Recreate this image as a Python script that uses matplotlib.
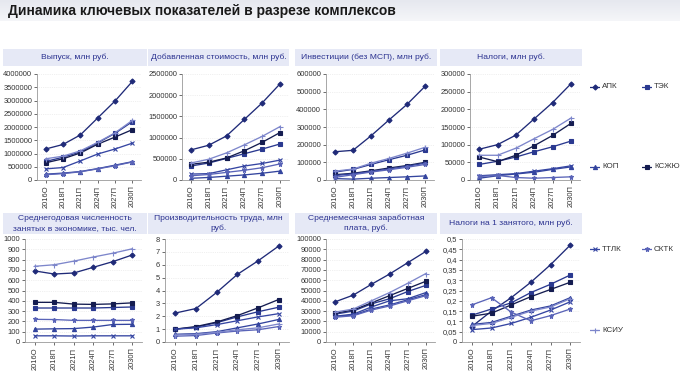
import numpy as np
import matplotlib
matplotlib.use('Agg')
import matplotlib.pyplot as plt
from matplotlib.patches import Rectangle
from matplotlib.ticker import FuncFormatter, MultipleLocator

plt.rcParams['font.family'] = ['Liberation Sans', 'DejaVu Sans']

W, H = 680, 388

years = ['2016О', '2018П', '2021П', '2024П', '2027П', '2030П']
names = ['АПК', 'ТЭК', 'КОП', 'КСЖЮ', 'ТТЛК', 'СКТК', 'КСИУ']

# values per panel, rows in order of names
vypusk = [
    [1170000, 1340000, 1700000, 2340000, 2980000, 3720000],
    [700000, 860000, 1060000, 1400000, 1760000, 2200000],
    [220000, 260000, 320000, 430000, 560000, 690000],
    [650000, 800000, 1020000, 1350000, 1620000, 1900000],
    [420000, 470000, 720000, 980000, 1170000, 1390000],
    [200000, 240000, 310000, 420000, 540000, 680000],
    [800000, 900000, 1100000, 1420000, 1780000, 2250000],
]
dobavl = [
    [710000, 820000, 1040000, 1430000, 1820000, 2270000],
    [330000, 400000, 510000, 620000, 730000, 850000],
    [40000, 60000, 90000, 120000, 160000, 210000],
    [370000, 420000, 520000, 690000, 890000, 1120000],
    [140000, 150000, 240000, 330000, 390000, 470000],
    [100000, 130000, 180000, 230000, 290000, 380000],
    [400000, 490000, 640000, 830000, 1030000, 1260000],
]
invest = [
    [160000, 168000, 250000, 340000, 428000, 530000],
    [45000, 60000, 88000, 115000, 140000, 170000],
    [8000, 5000, 10000, 14000, 18000, 23000],
    [30000, 38000, 52000, 68000, 82000, 100000],
    [25000, 35000, 48000, 62000, 78000, 95000],
    [15000, 30000, 45000, 58000, 72000, 88000],
    [50000, 62000, 95000, 122000, 152000, 185000],
]
nalogi = [
    [87000, 100000, 127000, 173000, 219000, 272000],
    [44000, 53000, 65000, 80000, 94000, 110000],
    [5000, 12000, 17000, 22000, 30000, 37000],
    [65000, 52000, 70000, 97000, 126000, 160000],
    [12000, 15000, 18000, 25000, 32000, 40000],
    [10000, 13000, 7000, 5000, 7000, 9000],
    [70000, 70000, 90000, 117000, 143000, 175000],
]
chislen = [
    [690, 660, 670, 725, 780, 845],
    [330, 330, 330, 330, 335, 340],
    [125, 128, 130, 145, 170, 172],
    [385, 385, 368, 365, 370, 380],
    [60, 60, 58, 60, 60, 60],
    [220, 218, 210, 210, 210, 210],
    [735, 750, 785, 825, 862, 905],
]
proizv = [
    [2.25, 2.6, 3.85, 5.25, 6.3, 7.45],
    [1.0, 1.15, 1.5, 1.95, 2.35, 2.7],
    [0.6, 0.65, 0.8, 1.1, 1.4, 1.75],
    [1.0, 1.2, 1.55, 2.05, 2.65, 3.3],
    [1.0, 1.1, 1.35, 1.65, 1.95, 2.2],
    [0.45, 0.5, 0.7, 0.85, 0.95, 1.2],
    [0.55, 0.6, 0.75, 0.95, 1.1, 1.4],
]
zarplata = [
    [39000, 45500, 56000, 66000, 77000, 88000],
    [27000, 30000, 37000, 42000, 49000, 55000],
    [25000, 27000, 34000, 40000, 42000, 48000],
    [28000, 31000, 38000, 45000, 52000, 59000],
    [25000, 26000, 32000, 36000, 41000, 46000],
    [24000, 25500, 31000, 35000, 40000, 45000],
    [29000, 32000, 40000, 48000, 57000, 66500],
]
nalog_na1 = [
    [0.075, 0.15, 0.215, 0.29, 0.375, 0.47],
    [0.13, 0.16, 0.19, 0.24, 0.28, 0.325],
    [0.085, 0.095, 0.125, 0.155, 0.175, 0.215],
    [0.125, 0.14, 0.18, 0.22, 0.255, 0.29],
    [0.06, 0.068, 0.09, 0.12, 0.155, 0.195],
    [0.18, 0.215, 0.145, 0.103, 0.128, 0.16],
    [0.08, 0.09, 0.12, 0.15, 0.17, 0.21],
]

colors = ['#1f2a78', '#2a3990', '#33449e', '#141c50', '#3545a2', '#5a64b8', '#7d86cb']
markers = ['D', 's', '^', 's', 'x', '*', '+']
msizes = [2.6, 2.6, 3.0, 2.8, 3.0, 3.6, 3.6]

title_color = '#2b3290'
box_color = '#e6e9f6'

# (title, data, ymax, step, axes px (l, t, r, b), box px (l, t, r, b))
panels = [
    ('Выпуск, млн руб.', vypusk, 4000000, 500000, (37, 74, 141, 180), (3, 49, 147, 66)),
    ('Добавленная стоимость, млн руб.', dobavl, 2500000, 500000, (182, 74, 289, 180), (148, 49, 289, 66)),
    ('Инвестиции (без МСП), млн руб.', invest, 600000, 100000, (326, 74, 434, 180), (295, 49, 437, 66)),
    ('Налоги, млн руб.', nalogi, 300000, 50000, (470, 74, 580, 180), (440, 49, 582, 66)),
    ('Среднегодовая численность\nзанятых в экономике, тыс. чел.', chislen, 1000, 100, (25, 239, 142, 342), (3, 213, 147, 234)),
    ('Производительность труда, млн\nруб.', proizv, 8, 1, (165, 239, 289, 342), (148, 213, 289, 234)),
    ('Среднемесячная заработная\nплата, руб.', zarplata, 100000, 10000, (326, 239, 435, 342), (295, 213, 437, 234)),
    ('Налоги на 1 занятого, млн руб.', nalog_na1, 0.5, 0.05, (462, 239, 580, 342), (440, 213, 582, 234)),
]


def px_rect(l, t, r, b):
    return [l / W, 1 - b / H, (r - l) / W, (b - t) / H]


def fmt(v, pos):
    s = ('%.2f' % v).rstrip('0').rstrip('.')
    return s.replace('.', ',')


fig = plt.figure(figsize=(W / 100, H / 100), dpi=100)
fig.patch.set_facecolor('white')

# header bar
grad = np.linspace(0, 1, 50).reshape(-1, 1)
hax = fig.add_axes(px_rect(0, 0, W, 21))
hax.imshow(grad, aspect='auto', cmap=matplotlib.colors.LinearSegmentedColormap.from_list(
    'hd', ['#e6e8ef', '#f5f6f9']), extent=[0, 1, 0, 1])
hax.axis('off')
fig.text(8 / W, 1 - 11 / H, 'Динамика ключевых показателей в разрезе комплексов',
         fontsize=10, fontweight='bold', color='#1a1a1a', va='center', ha='left')

x = np.arange(len(years))
for title, data, ymax, step, arect, brect in panels:
    bl, bt, br, bb = brect
    fig.add_artist(Rectangle((bl / W, 1 - bb / H), (br - bl) / W, (bb - bt) / H,
                             transform=fig.transFigure, facecolor=box_color,
                             edgecolor='none'))
    fig.text((bl + br) / 2 / W, 1 - (bt + bb) / 2 / H, title, fontsize=6.1,
             color=title_color, ha='center', va='center', linespacing=1.5)

    ax = fig.add_axes(px_rect(*arect))
    for i, row in enumerate(data):
        ax.plot(x, row, color=colors[i], marker=markers[i], markersize=msizes[i],
                linewidth=0.95, markeredgewidth=0.8)
    ax.set_xlim(-0.5, len(years) - 0.5)
    ax.set_ylim(0, ymax)
    ax.yaxis.set_major_locator(MultipleLocator(step))
    ax.yaxis.set_major_formatter(FuncFormatter(fmt))
    ax.set_xticks(x)
    ax.set_xticklabels(years, rotation=90)
    ax.tick_params(axis='y', labelsize=5.4, length=2, width=0.5, pad=1.5, colors='#333333')
    ax.tick_params(axis='x', labelsize=5.4, length=2, width=0.5, pad=2, colors='#333333')
    ax.grid(axis='y', color='#e2e2e2', linewidth=0.5, linestyle=':')
    for s in ['top', 'right']:
        ax.spines[s].set_visible(False)
    for s in ['left', 'bottom']:
        ax.spines[s].set_color('#999999')
        ax.spines[s].set_linewidth(0.6)

# legend on the right
leg_pos = [(590, 87), (642, 87), (590, 167), (642, 167), (590, 249), (642, 249), (590, 330)]
for i, (lx, ly) in enumerate(leg_pos):
    lax = fig.add_axes(px_rect(lx, ly - 4, lx + 10, ly + 4))
    lax.plot([0, 1], [0, 0], color=colors[i], linewidth=0.9)
    lax.plot([0.5], [0], color=colors[i], marker=markers[i], markersize=msizes[i],
             markeredgewidth=0.8)
    lax.set_xlim(0, 1)
    lax.set_ylim(-1, 1)
    lax.axis('off')
    fig.text((lx + 12) / W, 1 - ly / H, names[i], fontsize=5.8, color='#333333',
             va='center', ha='left')

fig.savefig('out.png', dpi=100)
